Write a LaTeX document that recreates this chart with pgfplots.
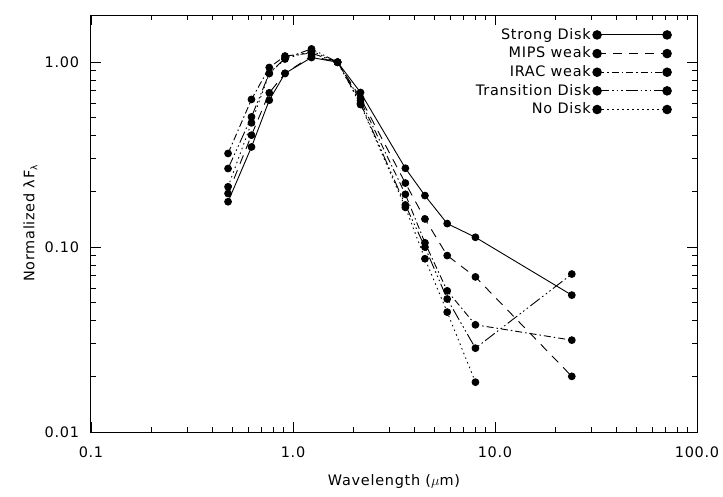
\documentclass[border=0pt]{standalone}
\usepackage{fontspec}
\setmainfont{DejaVu Sans}[LetterSpace=5.0]
\usepackage{pgfplots}
\pgfplotsset{compat=1.18}
\pgfplotstableread{
x      strong  mips   irac    trans   nodisk
0.477  0.176   0.195  0.321   0.266   0.212
0.623  0.348   0.403  0.629   0.506   0.470
0.763  0.623   0.683  0.936   0.870   0.870
0.913  0.870   0.870  1.080   1.050   1.040
1.235  1.060   1.080  1.120   1.180   1.150
1.662  1.000   1.000  1.000   1.000   1.000
2.159  0.686   0.640  0.620   0.600   0.590
3.6    0.267   0.222  0.193   0.169   0.164
4.5    0.190   0.142  0.1055  0.100   0.0865
5.8    0.134   0.090  0.058   0.0524  0.0445
8.0    0.113   0.069  0.038   0.0284  0.0186
24.0   0.055   0.020  0.0314  0.0715  nan
}\sed
\begin{document}
\fontsize{14.5}{17}\selectfont
\begin{tikzpicture}
\useasboundingbox (-91bp,-65bp) rectangle (632bp,432bp);
\begin{axis}[
  at={(0,0)}, anchor=south west,
  scale only axis, width=606bp, height=417bp,
  xmode=log, ymode=log,
  xmin=0.1, xmax=100, ymin=0.01, ymax=1.8,
  xtick={0.1,1,10,100}, xticklabels={0.1,1.0,10.0,100.0},
  ytick={0.01,0.1,1}, yticklabels={0.01,0.10,1.00},
  tick align=inside,
  major tick length=10bp, minor tick length=5bp,
  axis line style={line width=1bp},
  every tick/.style={black, line width=0.8bp},
  xticklabel style={yshift=-10bp},
  yticklabel style={xshift=-7bp},
  /pgf/number format/assume math mode=true,
  every axis x label/.style={at={(axis description cs:0.5,-0.118)}, anchor=center},
  every axis y label/.style={at={(axis description cs:-0.1,0.5)}, rotate=90, anchor=center},
  xlabel={Wavelength ($\mu$m)},
  ylabel={Normalized λF\raisebox{-0.35ex}{\fontsize{9}{9}\selectfont λ}},
  legend plot pos=right,
  legend cell align=right,
  legend style={draw=none, fill=none, at={(rel axis cs:0.963,0.978)}, anchor=north east,
    row sep=1.5bp, nodes={inner sep=2bp}},
  legend image code/.code={\draw[#1, mark size=4.3bp] plot coordinates {(0bp,0bp) (70bp,0bp)};},
  every axis plot/.append style={black, line width=0.9bp, mark=*, mark size=3.4bp, mark options={solid}},
  unbounded coords=discard,
]
\addplot[solid] table[x=x,y=strong] {\sed};
\addlegendentry{Strong Disk}
\addplot[dash pattern=on 9bp off 7bp] table[x=x,y=mips] {\sed};
\addlegendentry{MIPS weak}
\addplot[dash pattern=on 7bp off 3bp on 1.5bp off 3bp] table[x=x,y=irac] {\sed};
\addlegendentry{IRAC weak}
\addplot[dash pattern=on 12bp off 3bp on 1.5bp off 3bp on 1.5bp off 3bp on 1.5bp off 3bp] table[x=x,y=trans] {\sed};
\addlegendentry{Transition Disk}
\addplot[dash pattern=on 1.5bp off 3.5bp] table[x=x,y=nodisk] {\sed};
\addlegendentry{No Disk}
\end{axis}
\end{tikzpicture}
\end{document}
